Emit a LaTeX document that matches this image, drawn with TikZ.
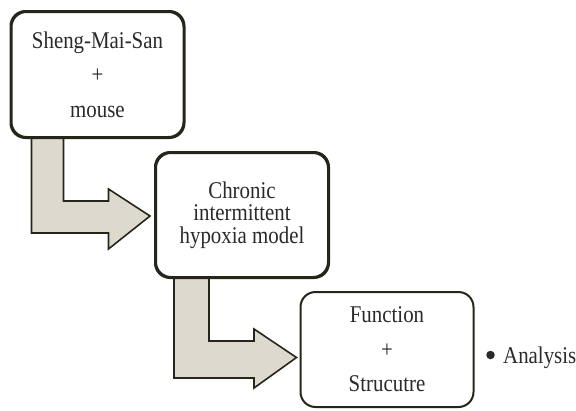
\documentclass[tikz,border=0pt]{standalone}
\usepackage{fontspec}
\setmainfont[FakeStretch=0.87]{Liberation Serif}
\usetikzlibrary{calc}
\definecolor{edge}{HTML}{26251A}
\definecolor{arrowfill}{HTML}{DDD9CE}
\definecolor{ink}{HTML}{2A2A2A}
\tikzset{
  stage/.style={draw=edge, line width=2pt, rounded corners=15pt, fill=white,
    align=center, text=ink, inner sep=0pt,
    font=\fontsize{24}{22.5}\selectfont},
  flow/.style={draw=edge, line width=1.6pt, fill=arrowfill, line join=miter},
  note/.style={text=ink, font=\fontsize{24}{22.5}\selectfont, inner sep=0pt},
  dot/.style={circle, fill=ink, inner sep=0pt, minimum size=8.5pt}
}
\begin{document}
\begin{tikzpicture}[x=1pt, y=-1pt]
\useasboundingbox (0,0) rectangle (576,410);

% process stages
\node[stage, minimum width=172pt, minimum height=125pt] (b1) at (97.5,74.5)
  {Sheng-Mai-San\\[12pt]+\\[12pt]mouse};
\node[stage, minimum width=172pt, minimum height=124pt] (b2) at (242,215)
  {Chronic\\intermittent\\hypoxia model};
\node[stage, minimum width=173pt, minimum height=115pt] (b3) at (387,349.5)
  {Function\\[12pt]+\\[12pt]Strucutre};

% side remark
\node[dot] (bul) at (490.5,355) {};
\node[note, anchor=base west] (an) at (503,363) {Analysis};

% bent block arrows from one stage to the next
\draw[flow] ($(b1.south west)+(21,-1)$) -- ($(b1.south west)+(21,95)$)
  -- ($(b1.south west)+(98,95)$) -- ($(b1.south west)+(98,111)$)
  -- ($(b2.west)+(-5,1)$) -- ($(b1.south west)+(98,51)$)
  -- ($(b1.south west)+(98,63)$) -- ($(b1.south west)+(53,63)$)
  -- ($(b1.south west)+(53,-1)$);
\draw[flow] ($(b2.south west)+(19,-1)$) -- ($(b2.south west)+(19,100)$)
  -- ($(b2.south west)+(99,100)$) -- ($(b2.south west)+(99,110)$)
  -- ($(b3.west)+(-3,8)$) -- ($(b2.south west)+(99,51)$)
  -- ($(b2.south west)+(99,63)$) -- ($(b2.south west)+(54,63)$)
  -- ($(b2.south west)+(54,-1)$);

% stage outlines again, on top of the arrow ends
\draw[edge, line width=2pt, rounded corners=15pt]
  (b1.south west) rectangle (b1.north east)
  (b2.south west) rectangle (b2.north east);
\end{tikzpicture}
\end{document}
